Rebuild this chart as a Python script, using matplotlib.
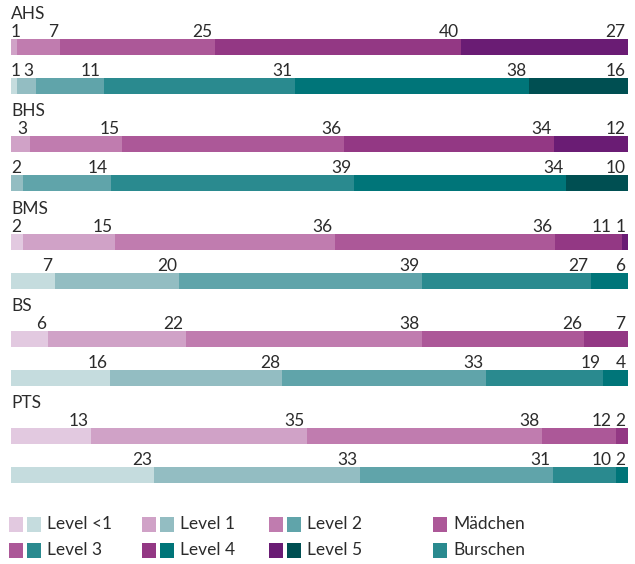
import matplotlib.pyplot as plt
from matplotlib.patches import Rectangle

plt.rcParams['font.family'] = ['Lato', 'DejaVu Sans']

schools = ['AHS', 'BHS', 'BMS', 'BS', 'PTS']
levels = ['Level <1', 'Level 1', 'Level 2', 'Level 3', 'Level 4', 'Level 5']

# first level index of each bar, then the shares per level
girls_start = [1, 1, 0, 0, 0]
girls = [[1, 7, 25, 40, 27],
         [3, 15, 36, 34, 12],
         [2, 15, 36, 36, 11, 1],
         [6, 22, 38, 26, 7],
         [13, 35, 38, 12, 2]]
boys_start = [0, 1, 0, 0, 0]
boys = [[1, 3, 11, 31, 38, 16],
        [2, 14, 39, 34, 10],
        [7, 20, 39, 27, 6],
        [16, 28, 33, 19, 4],
        [23, 33, 31, 10, 2]]

girl_colors = ['#e2c9e0', '#d0a2c7', '#c07caf', '#ac5898', '#933884', '#6a1c74']
boy_colors = ['#c5dcde', '#93bdc2', '#60a4aa', '#2a8a8f', '#007579', '#004f52']
text_col = '#2b2b2b'

W, H = 635, 564
fig = plt.figure(figsize=(W / 100, H / 100), dpi=100)
ax = fig.add_axes([11 / W, 0, 617 / W, 1])
ax.set_xlim(0, 100)
ax.set_ylim(H, 0)
ax.axis('off')

bar_h = 16
label_rows = []
for i, school in enumerate(schools):
    g_y = 47 + 97.3 * i
    b_y = g_y + 39
    ax.text(0, g_y - 33, school, fontsize=12.5, color=text_col,
            ha='left', va='center')
    for vals, start, cols, y in [(girls[i], girls_start[i], girl_colors, g_y),
                                 (boys[i], boys_start[i], boy_colors, b_y)]:
        total = sum(vals)
        left = 0
        row = []
        for k, v in enumerate(vals):
            w = v / total * 100
            ax.barh(y, w, left=left, height=bar_h, color=cols[start + k],
                    edgecolor='none')
            left += w
            t = ax.text(left - 0.4, y - bar_h / 2 - 2, str(v), fontsize=12.5,
                        color=text_col, ha='right', va='baseline')
            row.append(t)
        label_rows.append(row)

# push crowded labels to the left so they do not run into each other,
# but keep the first one inside the bar
fig.canvas.draw()
r = fig.canvas.get_renderer()
px_per_unit = 617 / 100
for row in label_rows:
    limit = None
    for t in reversed(row):
        bb = t.get_window_extent(r)
        if limit is not None and bb.x1 > limit - 4:
            x, yy = t.get_position()
            t.set_position((x - (bb.x1 - limit + 4) / px_per_unit, yy))
            bb = t.get_window_extent(r)
        limit = bb.x0
    bb = row[0].get_window_extent(r)
    if bb.x0 < 11:
        x, yy = row[0].get_position()
        row[0].set_position((x + (11 - bb.x0) / px_per_unit, yy))

# legend
lax = fig.add_axes([0, 0, 1, 1])
lax.set_xlim(0, W)
lax.set_ylim(H, 0)
lax.axis('off')
col_x = [9, 142, 269]
row_y = [524, 550]
for k, lab in enumerate(levels):
    x = col_x[k % 3]
    y = row_y[k // 3]
    lax.add_patch(Rectangle((x, y - 7.5), 13.5, 15, color=girl_colors[k], lw=0))
    lax.add_patch(Rectangle((x + 18, y - 7.5), 13.5, 15, color=boy_colors[k], lw=0))
    lax.text(x + 38, y, lab, fontsize=12.5, color=text_col, ha='left', va='center')
for y, lab, c in [(row_y[0], 'Mädchen', girl_colors[3]),
                  (row_y[1], 'Burschen', boy_colors[3])]:
    lax.add_patch(Rectangle((433, y - 7.5), 13.5, 15, color=c, lw=0))
    lax.text(453, y, lab, fontsize=12.5, color=text_col, ha='left', va='center')

fig.savefig('out.png', dpi=100)
